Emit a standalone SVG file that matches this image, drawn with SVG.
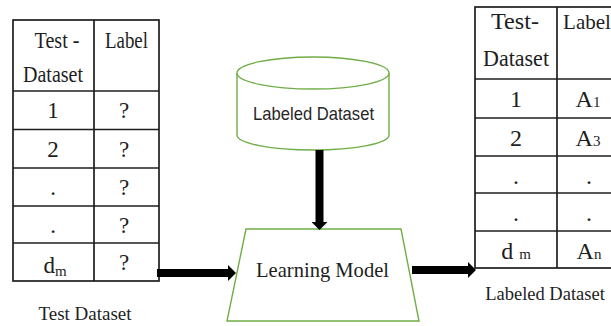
<svg xmlns="http://www.w3.org/2000/svg" width="611" height="326" viewBox="0 0 611 326">
  <style>
    .grid { fill: none; stroke: #1e1e1e; stroke-width: 1.7; }
    .serif { font-family: 'Liberation Serif', Tinos, 'Times New Roman', Times, serif; fill: #1e1e1e; text-anchor: middle; }
    .cell { font-size: 23px; }
    .cellR { font-size: 24px; }
    .caption { font-size: 19px; }
    .shape { fill: #ffffff; stroke: #70AD47; stroke-width: 1.4; }
    .db-label { font-family: 'Liberation Sans', Arimo, Arial, sans-serif; font-size: 19px; fill: #262626; text-anchor: middle; }
    .model-label { font-size: 22px; }
    .flow { stroke: #000000; stroke-width: 8; fill: none; }
    .sub { font-size: 15px; }
  </style>
  <defs>
    <marker id="head" viewBox="0 0 8 16" markerWidth="8" markerHeight="16" refX="0" refY="8" markerUnits="userSpaceOnUse" orient="auto">
      <path d="M0,0 L8,8 L0,16 Z" fill="#000000"/>
    </marker>
  </defs>

  <rect width="611" height="326" fill="#ffffff"/>

  <!-- Unlabelled test table -->
  <g id="test-dataset">
    <rect class="grid" x="13" y="20" width="146" height="261"/>
    <line class="grid" x1="94" y1="20" x2="94" y2="281"/>
    <line class="grid" x1="13" y1="91" x2="159" y2="91"/>
    <line class="grid" x1="13" y1="129.5" x2="159" y2="129.5"/>
    <line class="grid" x1="13" y1="168" x2="159" y2="168"/>
    <line class="grid" x1="13" y1="206" x2="159" y2="206"/>
    <line class="grid" x1="13" y1="243" x2="159" y2="243"/>
    <text class="serif cell" x="57" y="48" textLength="45" lengthAdjust="spacingAndGlyphs">Test -</text>
    <text class="serif cell" x="53" y="82" textLength="60" lengthAdjust="spacingAndGlyphs">Dataset</text>
    <text class="serif cell" x="126.5" y="48" textLength="43" lengthAdjust="spacingAndGlyphs">Label</text>
    <text class="serif cell" x="53" y="118">1</text>
    <text class="serif cell" x="53" y="156.5">2</text>
    <text class="serif cell" x="53" y="195">.</text>
    <text class="serif cell" x="53" y="233">.</text>
    <text class="serif cell" x="55" y="273">d<tspan class="sub" dy="3">m</tspan></text>
    <text class="serif cell" x="124" y="118">?</text>
    <text class="serif cell" x="124" y="156.5">?</text>
    <text class="serif cell" x="124" y="195">?</text>
    <text class="serif cell" x="124" y="233">?</text>
    <text class="serif cell" x="124" y="270">?</text>
    <text class="serif caption" x="85" y="320">Test Dataset</text>
  </g>

  <!-- Training data store -->
  <g id="labeled-store">
    <path class="shape" d="M237,73 L237,135 A76,15 0 0 0 389,135 L389,73"/>
    <ellipse class="shape" cx="313" cy="73" rx="76" ry="16"/>
    <text class="db-label" x="313.5" y="120" textLength="121" lengthAdjust="spacingAndGlyphs">Labeled Dataset</text>
  </g>

  <!-- Model -->
  <g id="learning-model">
    <polygon class="shape" points="246,229 401,229 419,321 227,321"/>
    <text class="serif model-label" x="322.5" y="277" textLength="133" lengthAdjust="spacingAndGlyphs">Learning Model</text>
  </g>

  <!-- Predicted output table -->
  <g id="labeled-output">
    <rect class="grid" x="475" y="7" width="170" height="261"/>
    <line class="grid" x1="557" y1="7" x2="557" y2="268"/>
    <line class="grid" x1="475" y1="79" x2="645" y2="79"/>
    <line class="grid" x1="475" y1="118" x2="645" y2="118"/>
    <line class="grid" x1="475" y1="156" x2="645" y2="156"/>
    <line class="grid" x1="475" y1="193" x2="645" y2="193"/>
    <line class="grid" x1="475" y1="231" x2="645" y2="231"/>
    <text class="serif cellR" x="515" y="29" textLength="48" lengthAdjust="spacingAndGlyphs">Test-</text>
    <text class="serif cellR" x="516" y="66" textLength="66" lengthAdjust="spacingAndGlyphs">Dataset</text>
    <text class="serif" x="587" y="29" font-size="21">Label</text>
    <text class="serif cellR" x="516" y="107">1</text>
    <text class="serif cellR" x="516" y="146">2</text>
    <text class="serif cellR" x="516" y="184">.</text>
    <text class="serif cellR" x="516" y="221">.</text>
    <text class="serif cellR" x="516" y="259">d <tspan class="sub">m</tspan></text>
    <text class="serif cellR" x="588" y="107">A<tspan class="sub">1</tspan></text>
    <text class="serif cellR" x="588" y="146">A<tspan class="sub">3</tspan></text>
    <text class="serif cellR" x="589" y="184">.</text>
    <text class="serif cellR" x="589" y="221">.</text>
    <text class="serif cellR" x="589" y="259">A<tspan class="sub">n</tspan></text>
    <text class="serif" x="545" y="300" font-size="18.5">Labeled Dataset</text>
  </g>

  <!-- Data flow -->
  <g id="connectors">
    <line class="flow" x1="157" y1="273" x2="228" y2="273" marker-end="url(#head)"/>
    <line class="flow" x1="319.5" y1="150" x2="319.5" y2="222" marker-end="url(#head)"/>
    <line class="flow" x1="412" y1="270" x2="468" y2="270" marker-end="url(#head)"/>
  </g>
</svg>
